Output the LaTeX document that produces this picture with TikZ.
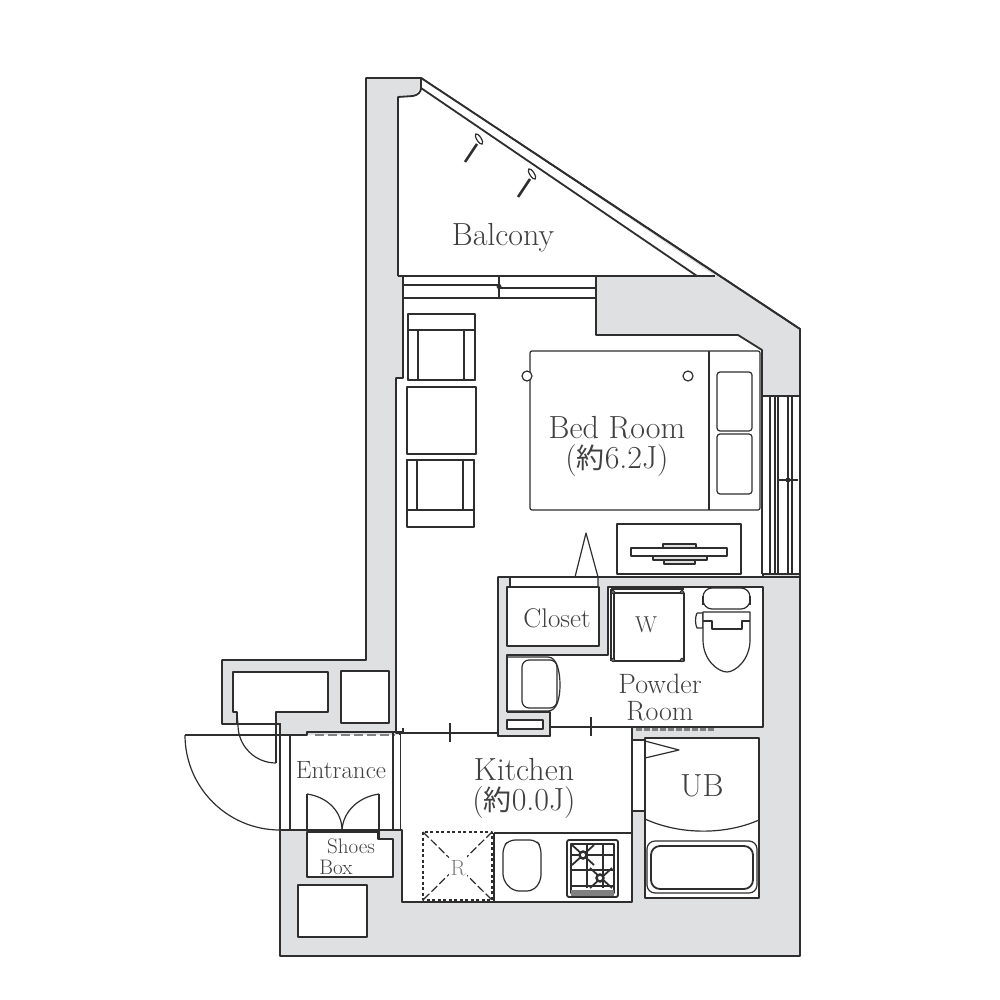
\documentclass[tikz,border=0pt]{standalone}
\usepackage{fontspec}
\newfontfamily\cjk{Noto Sans CJK JP}
\usetikzlibrary{positioning}
\definecolor{wallgray}{HTML}{DFE0E2}
\definecolor{inkline}{HTML}{2E2E2E}
\definecolor{labelink}{HTML}{404040}
\tikzset{
  plan/.style={draw=inkline, line width=1.8pt, line join=round},
  thinplan/.style={draw=inkline, line width=1.2pt, line join=round},
  wall/.style={plan, fill=wallgray},
  room/.style={plan, fill=white},
  furn/.style={thinplan, fill=white},
  lbl/.style={text=labelink, inner sep=0pt, align=center, font=\fontsize{32}{34}\selectfont},
  smalllbl/.style={lbl, font=\fontsize{27}{27}\selectfont},
}
\begin{document}
\begin{tikzpicture}[x=1pt,y=-1pt]
  \useasboundingbox (0,0) rectangle (1000,1000);

  % Outer wall body
  \draw[wall] (366,78) -- (421,78) -- (800,329) -- (800,956) -- (280,956) -- (280,724)
    -- (222,724) -- (222,660) -- (366,660) -- cycle;

  % Balcony and balustrade
  \fill[white] (421,78) -- (715,276) -- (398,276) -- (398,97) -- (413,96) -- (421,88) -- cycle;
  \draw[plan] (398,276) -- (398,97) -- (413,96) .. controls (418,95) and (421,92) .. (421,88) -- (697,276);
  \draw[plan] (421,78) -- (421,88);
  \draw[plan] (421,78) -- (800,329);
  \draw[plan] (398,276) -- (715,276);
  \draw[line width=2.6pt, draw=inkline] (465,162) -- (477,144);
  \draw[thinplan, rotate around={-58:(479,139)}, fill=white] (479,139) ellipse (6 and 2.2);
  \draw[line width=2.6pt, draw=inkline] (518,197) -- (530,179);
  \draw[thinplan, rotate around={-58:(532,174)}, fill=white] (532,174) ellipse (6 and 2.2);

  % Main room with kitchen
  \draw[room] (403,276) -- (596,276) -- (596,335) -- (738,335) -- (762,350) -- (762,396) -- (800,396)
    -- (800,574) -- (763,574) -- (763,577) -- (498,577) -- (498,736) -- (550,736) -- (550,727)
    -- (632,727) -- (632,902) -- (402,902) -- (402,830) -- (400,830) -- (400,733) -- (396,733) -- (396,378)
    -- (403,378) -- cycle;
  \draw[plan] (396,733) -- (498,733);
  \draw[thinplan] (450,723) -- (450,742);

  % North window
  \draw[plan] (403,298) -- (596,298);
  \draw[plan, line width=2.2pt] (403,285) -- (499,285) (499,288) -- (596,288);
  \draw[thinplan] (499,277) -- (499,298);
  \fill[inkline] (499,286.5) circle (2.5);
  % East window
  \draw[thinplan] (770,397) -- (770,574) (775,397) -- (775,574) (778,397) -- (778,574) (792,397) -- (792,574);
  \draw[plan, line width=2.2pt] (788,397) -- (788,574);
  \draw[thinplan] (778,480) -- (798,480);
  \fill[inkline] (788,480) circle (2.5);
  \draw[plan] (762,396) -- (762,574);

  % Armchairs and sofa
  \draw[furn] (408,314) rectangle (475,380);
  \draw[plan] (408,330) -- (475,330);
  \draw[thinplan] (408,330) rectangle (418,380) (464,330) rectangle (475,380);
  \draw[furn] (407,387) rectangle (476,454);
  \draw[furn] (407,460) rectangle (474,527);
  \draw[plan] (407,510) -- (474,510);
  \draw[thinplan] (407,460) rectangle (417,510) (463,460) rectangle (474,510);

  % Bed
  \draw[furn, rounded corners=2pt] (530,351) rectangle (760,510);
  \draw[thinplan] (709,351) -- (709,510);
  \draw[furn, rounded corners=3pt] (717,372) rectangle (752,431);
  \draw[furn, rounded corners=3pt] (717,434) rectangle (752,494);
  \draw[furn] (527,376) circle (5);
  \draw[furn] (688,376) circle (5);

  % TV stand
  \draw[furn] (617,524) rectangle (741,574);
  \fill[wallgray] (663,544) rectangle (696,548);
  \draw[thinplan] (663,548) -- (663,544) -- (696,544) -- (696,548);
  \draw[furn] (631,548) rectangle (727,556);
  \draw[thinplan, fill=wallgray] (653,556) rectangle (707,560);
  \draw[thinplan, fill=wallgray] (664,560) rectangle (695,564);

  % Partition behind closet and powder room
  \fill[wallgray] (498,577) -- (763,577) -- (763,727) -- (550,727) -- (550,736) -- (498,736) -- cycle;
  \draw[plan] (498,577) -- (800,577);
  \draw[plan] (498,577) -- (498,736) -- (550,736) -- (550,727);
  \draw[room] (507,587) rectangle (599,646);
  \fill[white] (510,578) rectangle (598,586);
  \draw[thinplan] (510,577) -- (510,587);
  \draw[thinplan] (575,577) -- (586,533) -- (598,577) -- (598,587);
  \fill[white] (507,655) -- (608,655) -- (608,587) -- (763,587) -- (763,727) -- (550,727) -- (550,712) -- (507,712) -- cycle;
  \draw[plan] (507,712) -- (507,655) -- (608,655) -- (608,587) -- (763,587) -- (763,727) -- (715,727);
  \draw[plan] (633,727) -- (550,727) -- (550,712) -- (507,712);
  \draw[draw=gray, line width=2.6pt, dash pattern=on 6pt off 2pt] (636,729.5) -- (715,729.5);
  \draw[plan] (633,727) -- (715,727);
  \draw[furn] (507,720) rectangle (543,729);
  \draw[thinplan] (591,717) -- (591,736);

  % Washing machine pan
  \draw[plan, line width=2.8pt] (611,589) -- (684,589);
  \draw[plan, line width=2.8pt] (611,589) -- (611,661);
  \draw[furn, line width=1.6pt] (614,593) rectangle (684,661);
  \foreach \px/\py in {613/592,682/592,613/660,682/660}
    \draw[thinplan, fill=white] (\px,\py) circle (1.8);

  % Toilet
  \draw[furn, rounded corners=9pt] (703,588) rectangle (750,609);
  \draw[thinplan] (703,596) -- (703,605) (750,596) -- (750,605);
  \draw[furn] (697,613) -- (703,613) -- (703,628) -- (697,628) .. controls (695,624) and (695,617) .. (697,613);
  \draw[furn] (703,612) -- (750,612) -- (750,640) .. controls (750,660) and (735,672) .. (727,672)
    .. controls (718,672) and (703,660) .. (703,640) -- cycle;
  \draw[thinplan] (703,621) -- (712,621) -- (712,629) -- (742,629) -- (742,621) -- (750,621);

  % Wash basin
  \draw[thinplan] (507,657) -- (548,657) .. controls (557,657) and (560,672) .. (560,685)
    .. controls (560,698) and (557,711) .. (548,711) -- (507,711);
  \draw[thinplan, rounded corners=7pt] (522,660) rectangle (557,708);

  % Store outside
  \fill[white] (233,672) -- (328,672) -- (328,712) -- (276,712) -- (276,725) -- (237,725) -- (237,712) -- (233,712) -- cycle;
  \draw[plan] (237,724) -- (237,712) -- (233,712) -- (233,672) -- (328,672) -- (328,712) -- (276,712) -- (276,763);
  \draw[plan] (222,724) -- (281,724);
  \draw[thinplan] (237,713) -- (238,725) arc[start angle=180, end angle=90, radius=38];
  \draw[room] (341,671) rectangle (389,723);

  % Entrance
  \fill[white] (280,735) rectangle (400,830);
  \draw[plan] (185,735) -- (307,735) -- (307,732) -- (403,732) -- (403,728);
  \draw[draw=gray, line width=2.4pt, dash pattern=on 9pt off 4pt] (315,735) -- (395,735);
  \draw[plan] (280,724) -- (280,830);
  \draw[thinplan] (290,735) -- (290,830) (393,733) -- (393,830);
  \draw[thinplan] (185,735) arc[start angle=180, end angle=90, radius=95];
  \draw[plan] (280,830) -- (402,830);
  \draw[thinplan] (307,794) .. controls (328,797) and (342,812) .. (342,830);
  \draw[thinplan] (379,794) .. controls (358,797) and (343,812) .. (342,830);
  \draw[plan] (307,794) -- (307,830) (379,794) -- (379,838);

  % Shoes box and pipe shaft
  \draw[room] (307,832) -- (378,832) -- (378,839) -- (393,839) -- (393,877) -- (307,877) -- cycle;
  \draw[room] (298,885) rectangle (367,937);

  % Kitchen counter
  \draw[plan] (494,833) -- (632,833);
  \draw[plan] (494,833) -- (494,902);
  \draw[plan, dash pattern=on 3pt off 2.5pt] (423,832) rectangle (492,900);
  \draw[thinplan, dash pattern=on 8pt off 3pt] (423,832) -- (492,900) (492,832) -- (423,900);
  \fill[white] (449,855) rectangle (467,881);
  \draw[thinplan, rounded corners=6pt] (509,840) -- (536,840) -- (541,847) -- (541,881) -- (533,891) -- (513,891) -- (503,880) -- (503,847) -- cycle;

  % Gas stove
  \draw[plan, rounded corners=2pt] (567,840) rectangle (618,897);
  \draw[thinplan] (571,844) rectangle (614,893);
  \draw[thinplan] (571,855) -- (614,855) (587,844) -- (587,888) (603,844) -- (603,888) (571,870) -- (614,870) (571,886) -- (614,886);
  \draw[plan] (572,845) -- (594,865) (594,845) -- (572,865) (590,868) -- (612,888) (612,868) -- (590,888);
  \draw[inkline, fill=white, line width=2.4pt] (583,855) circle (3.5);
  \draw[inkline, fill=white, line width=2.4pt] (600,878) circle (3.5);
  \fill[gray] (571,890) rectangle (614,896);

  % Door passage and unit bath
  \fill[white] (632,740) rectangle (645,811);
  \draw[plan] (632,727) -- (632,902);
  \draw[plan] (632,740) -- (645,740) (632,811) -- (645,811);
  \draw[room] (645,738) rectangle (759,898);
  \draw[thinplan] (645,741) -- (679,750) -- (645,758);
  \draw[thinplan] (645,819) .. controls (680,835) and (725,835) .. (759,820);
  \draw[thinplan, rounded corners=8pt] (647,841) rectangle (757,893);
  \draw[plan, rounded corners=9pt] (651,846) rectangle (753,889);

  % Labels
  \node[lbl] (balconylbl) at (503,238) {Balcony};
  \node[lbl] (bedlbl) at (617,428) {Bed Room};
  \node[lbl] (bedsizelbl) at (617,461) {({\cjk\fontsize{28}{28}\selectfont 約}6.2J)};
  \node[smalllbl] (closetlbl) at (557,618) {Closet};
  \node[smalllbl, font=\fontsize{23}{23}\selectfont] (wlbl) at (646,625) {W};
  \node[lbl, font=\fontsize{28}{28}\selectfont] (powderlbl) at (660,684) {Powder};
  \node[lbl, font=\fontsize{28}{28}\selectfont] (roomlbl) at (660,711) {Room};
  \node[lbl] (kitchenlbl) at (524,770) {Kitchen};
  \node[lbl] (kitchensizelbl) at (524,803) {({\cjk\fontsize{28}{28}\selectfont 約}0.0J)};
  \node[lbl] (ublbl) at (702,786) {UB};
  \node[smalllbl, font=\fontsize{25}{25}\selectfont] (entrancelbl) at (341,770) {Entrance};
  \node[smalllbl, font=\fontsize{21}{21}\selectfont] (shoeslbl) at (351,846) {Shoes};
  \node[smalllbl, font=\fontsize{21}{21}\selectfont] (boxlbl) at (336,867) {Box};
  \node[smalllbl, font=\fontsize{22}{22}\selectfont, text=gray] (rlbl) at (458,868) {R};
\end{tikzpicture}
\end{document}
